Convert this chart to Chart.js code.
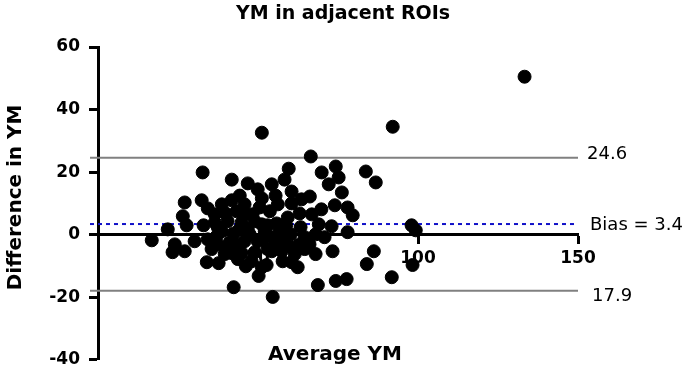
<!DOCTYPE html>
<html lang="en">
<head>
  <meta charset="UTF-8">
  <title>YM in adjacent ROIs</title>
  <script src="https://cdn.jsdelivr.net/npm/chart.js"></script>
  <style>
    body { margin: 0; background: #fff; }
    #wrap { width: 685px; height: 379px; }
  </style>
</head>
<body>
  <div id="wrap"><canvas id="chart" width="685" height="379"></canvas></div>
  <script>
    // Bland-Altman data: average YM (x) vs difference in YM (y)
    const avgYM = [
      16.8, 21.8, 24.0, 23.3, 27.1, 26.5, 27.7, 27.1, 30.2, 32.7,
      32.4, 34.3, 33.0, 34.0, 37.7, 34.3, 37.1, 37.4, 38.7, 36.5,
      40.5, 41.8, 41.8, 41.2, 42.4, 40.5, 43.3, 43.7, 44.9, 45.8,
      44.9, 46.2, 42.4, 46.8, 48.3, 49.0, 49.0, 50.2, 49.9, 49.9,
      51.2, 51.2, 51.2, 51.2, 52.7, 53.0, 54.3, 54.3, 54.6, 55.8,
      57.4, 58.3, 58.3, 59.3, 59.6, 60.2, 60.5, 60.5, 60.5, 61.5,
      62.4, 63.3, 64.6, 64.6, 66.2, 66.5, 66.8, 68.0, 68.0, 69.0,
      68.7, 69.9, 72.1, 73.0, 73.3, 74.0, 74.3, 74.3, 75.2, 76.2,
      77.7, 78.0, 78.0, 79.6, 83.7, 84.0, 86.2, 86.8, 91.8, 92.1,
      98.0, 99.3, 98.3, 133.3,
      38.7, 44.2, 47.4, 52.1, 56.8, 53.7, 45.8, 39.6, 63.0, 56.2,
      44.3, 36.5, 39.9, 46.8, 50.5, 55.5, 58.8, 63.0, 63.6, 54.3,
      57.7, 41.8, 48.0, 35.5, 44.2, 51.2, 55.8, 60.5, 66.1, 70.8,
      69.8, 37.4, 53.0, 45.8
    ];
    const diffYM = [
      -1.8, 1.7, -3.1, -5.6, -5.3, 5.9, 3.0, 10.3, -2.1, 19.9,
      11.0, 8.4, 3.0, -8.8, -9.1, -1.5, -0.5, -3.1, 9.7, 3.9,
      4.3, 11.0, 17.6, -2.4, 0.4, -4.0, 7.5, -7.8, 3.9, -2.1,
      -5.9, -10.1, -16.8, 16.4, 6.5, 4.3, -5.6, -13.2, 14.5, -2.1,
      32.6, 11.6, 3.3, -10.4, -9.7, -4.6, 16.1, -0.8, -19.9, 3.6,
      -5.3, 17.6, -2.1, 5.5, 21.1, 0.1, 13.8, 10.0, -8.8, -6.2,
      -10.4, 2.4, -0.8, -4.6, 12.2, 25.0, 6.5, 0.1, -6.2, 3.3,
      -16.1, 19.9, 16.1, 2.7, -5.3, 9.4, -14.8, 21.8, 18.3, 13.5,
      -14.2, 8.7, 0.8, 6.2, 20.2, -9.4, -5.3, 16.7, -13.6, 34.5,
      3.0, 1.4, -9.7, 50.5,
      1.1, 1.7, 0.1, 1.1, 1.1, 7.5, 9.7, -6.2, -3.1, 9.7,
      12.5, 6.5, 6.8, 1.7, 8.7, 12.5, 3.0, 6.8, 11.3, -5.3,
      -8.5, -5.9, -8.5, -4.6, -3.1, -1.5, -2.7, -4.0, -3.1, -0.8,
      8.1, 2.4, 3.0, 6.5
    ];

    const upperLoA = 24.6;
    const bias = 3.4;
    const lowerLoA = -17.9;
    const lineX = [-2.5, 150];
    const limitLabels = ['24.6', 'Bias = 3.4', '17.9'];

    const yTicks = [-40, -20, 0, 20, 40, 60];
    const xTicks = [50, 100, 150];

    const FONT = '"DejaVu Sans", "Liberation Sans", Arial, sans-serif';

    const points = avgYM.map((x, i) => ({ x: x, y: diffYM[i] }));
    const hLine = v => lineX.map(x => ({ x: x, y: v }));

    // titles and limit labels
    const textPlugin = {
      id: 'texts',
      afterDraw(chart) {
        const ctx = chart.ctx;
        const area = chart.chartArea;
        const ys = chart.scales.y;
        ctx.save();
        ctx.fillStyle = '#000';

        ctx.font = 'bold 19px ' + FONT;
        ctx.textAlign = 'center';
        ctx.textBaseline = 'alphabetic';
        ctx.fillText('YM in adjacent ROIs', 343, 19);

        ctx.font = 'bold 20px ' + FONT;
        ctx.fillText('Average YM', (area.left + area.right) / 2 - 3, 360);

        ctx.save();
        ctx.translate(21, (area.top + area.bottom) / 2 - 6);
        ctx.rotate(-Math.PI / 2);
        ctx.fillText('Difference in YM', 0, 0);
        ctx.restore();

        ctx.font = '18px ' + FONT;
        ctx.textAlign = 'left';
        ctx.textBaseline = 'middle';
        ctx.fillText(limitLabels[0], area.right + 9, ys.getPixelForValue(upperLoA) - 3);
        ctx.fillText(limitLabels[1], area.right + 12, ys.getPixelForValue(bias) + 1);
        ctx.fillText(limitLabels[2], area.right + 14, ys.getPixelForValue(lowerLoA) + 6);
        ctx.restore();
      }
    };

    const axisCommon = {
      border: { display: true, color: '#000', width: 3 },
      ticks: { color: '#000', font: { family: FONT, size: 17, weight: 'bold' } }
    };

    new Chart(document.getElementById('chart'), {
      type: 'scatter',
      data: {
        datasets: [
          {
            label: 'Difference',
            data: points,
            backgroundColor: '#000',
            borderColor: '#000',
            pointRadius: 6.5,
            pointHoverRadius: 6.5,
            order: 0
          },
          {
            label: 'Bias',
            data: hLine(bias),
            showLine: true,
            borderColor: '#1010c8',
            borderWidth: 2,
            borderDash: [4, 4],
            pointRadius: 0,
            clip: false,
            order: 1
          },
          {
            label: 'Upper',
            data: hLine(upperLoA),
            showLine: true,
            borderColor: '#808080',
            borderWidth: 2,
            pointRadius: 0,
            clip: false,
            order: 1
          },
          {
            label: 'Lower',
            data: hLine(lowerLoA),
            showLine: true,
            borderColor: '#808080',
            borderWidth: 2,
            pointRadius: 0,
            clip: false,
            order: 1
          }
        ]
      },
      options: {
        responsive: false,
        animation: false,
        layout: { padding: { left: 0, right: 107, top: 47, bottom: 18 } },
        plugins: { legend: { display: false }, tooltip: { enabled: false } },
        scales: {
          x: {
            type: 'linear',
            min: 0,
            max: 150,
            position: { y: 0 },
            border: axisCommon.border,
            grid: { drawOnChartArea: false, drawTicks: true, tickLength: 8, tickWidth: 3, tickColor: '#000' },
            ticks: Object.assign({ padding: 6 }, axisCommon.ticks),
            afterBuildTicks: s => { s.ticks = xTicks.map(v => ({ value: v })); }
          },
          y: {
            min: -40,
            max: 60,
            border: axisCommon.border,
            grid: { drawOnChartArea: false, drawTicks: true, tickLength: 9, tickWidth: 3, tickColor: '#000' },
            ticks: Object.assign({ padding: 9 }, axisCommon.ticks),
            afterBuildTicks: s => { s.ticks = yTicks.map(v => ({ value: v })); },
            afterFit: s => { s.width = 98; }
          }
        }
      },
      plugins: [textPlugin]
    });
  </script>
</body>
</html>
